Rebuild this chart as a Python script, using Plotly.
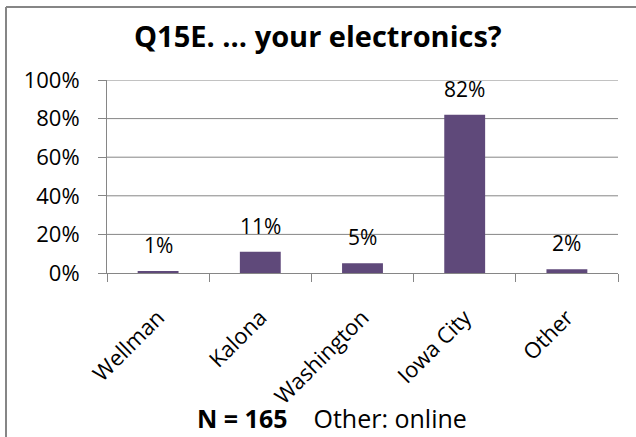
import plotly.graph_objects as go

# Survey responses: where people buy their electronics
categories = ["Wellman", "Kalona", "Washington", "Iowa City", "Other"]
shares = [0.01, 0.11, 0.05, 0.82, 0.02]
y_ticks = [0, 0.2, 0.4, 0.6, 0.8, 1.0]

title_text = "Q15E. ... your electronics?"
footer_bold = "N = 165"
footer_note = "Other: online"

W, H = 636, 437
ML, MR, MT, MB = 107, 18, 80, 164
FONT = "Open Sans, Lato, sans-serif"
GRAY = "#868686"
BAR = "#5F497A"

fig = go.Figure()
fig.add_trace(
    go.Bar(
        x=categories,
        y=shares,
        marker=dict(color=BAR, line=dict(width=0)),
        width=0.4,
        hoverinfo="skip",
    )
)
# invisible companion series that carries the labelled y axis
fig.add_trace(
    go.Scatter(
        x=categories, y=shares, yaxis="y2",
        mode="markers", marker=dict(opacity=0),
        hoverinfo="skip", showlegend=False,
    )
)

# horizontal gridlines at each y tick, behind the bars
for t in y_ticks[1:]:
    fig.add_shape(
        type="line", xref="paper", yref="y",
        x0=0, x1=1, y0=t, y1=t,
        line=dict(color=GRAY, width=1), layer="below",
    )

# value labels sit above each bar
for cat, val in zip(categories, shares):
    fig.add_annotation(
        x=cat, y=val, xref="x", yref="y",
        text=f"{val:.0%}", showarrow=False,
        yanchor="bottom", yshift=10,
        font=dict(family=FONT, size=21, color="#000000"),
    )

# chart frame: left and top edges (the rest runs past the page)
pw, ph = W - ML - MR, H - MT - MB
def px_x(p):
    return (p - ML) / pw
def px_y(p):
    return (H - MB - p) / ph

frame = dict(type="line", xref="paper", yref="paper",
             line=dict(color=GRAY, width=2), layer="above")
fig.add_shape(x0=px_x(6), x1=px_x(6), y0=px_y(7), y1=px_y(H + 20), **frame)
fig.add_shape(x0=px_x(6), x1=px_x(W + 20), y0=px_y(7), y1=px_y(7), **frame)

fig.add_annotation(
    xref="paper", yref="paper", x=px_x(318), y=px_y(35),
    text=f"<b>{title_text}</b>", showarrow=False,
    xanchor="center", yanchor="middle",
    font=dict(family=FONT, size=29, color="#000000"),
)

fig.add_annotation(
    xref="paper", yref="paper", x=px_x(332), y=px_y(418),
    text=f"<b>{footer_bold}</b>    {footer_note}", showarrow=False,
    xanchor="center", yanchor="middle",
    font=dict(family=FONT, size=25, color="#000000"),
)

fig.update_layout(
    template="none",
    width=W, height=H,
    margin=dict(l=ML, r=MR, t=MT, b=MB),
    paper_bgcolor="white", plot_bgcolor="rgba(0,0,0,0)",
    showlegend=False,
    bargap=0.6,
    font=dict(family=FONT, size=21, color="#000000"),
    xaxis=dict(
        type="category",
        categoryorder="array", categoryarray=categories,
        showline=True, linecolor=GRAY, linewidth=1,
        ticks="outside", ticklen=8, tickcolor=GRAY, tickwidth=1,
        tickson="boundaries",
        tickangle=-45,
        ticklabelstandoff=22,
        tickfont=dict(family=FONT, size=22, color="#000000"),
        showgrid=False, zeroline=False,
    ),
    # axis line and tick marks
    yaxis=dict(
        range=[0, 1.0],
        tickmode="array", tickvals=y_ticks,
        showticklabels=False,
        showline=True, linecolor=GRAY, linewidth=1,
        ticks="outside", ticklen=8, tickcolor=GRAY, tickwidth=1,
        showgrid=False, zeroline=False,
    ),
    # percentage labels, set a little further out from the axis
    yaxis2=dict(
        overlaying="y", side="left", anchor="x",
        range=[0, 1.0],
        tickmode="array", tickvals=y_ticks,
        tickformat=".0%",
        showline=False, showgrid=False, zeroline=False,
        ticks="outside", ticklen=8, tickcolor="rgba(0,0,0,0)",
        ticklabelstandoff=14,
        tickfont=dict(family=FONT, size=22, color="#000000"),
    ),
)

fig.write_html("out.html")
